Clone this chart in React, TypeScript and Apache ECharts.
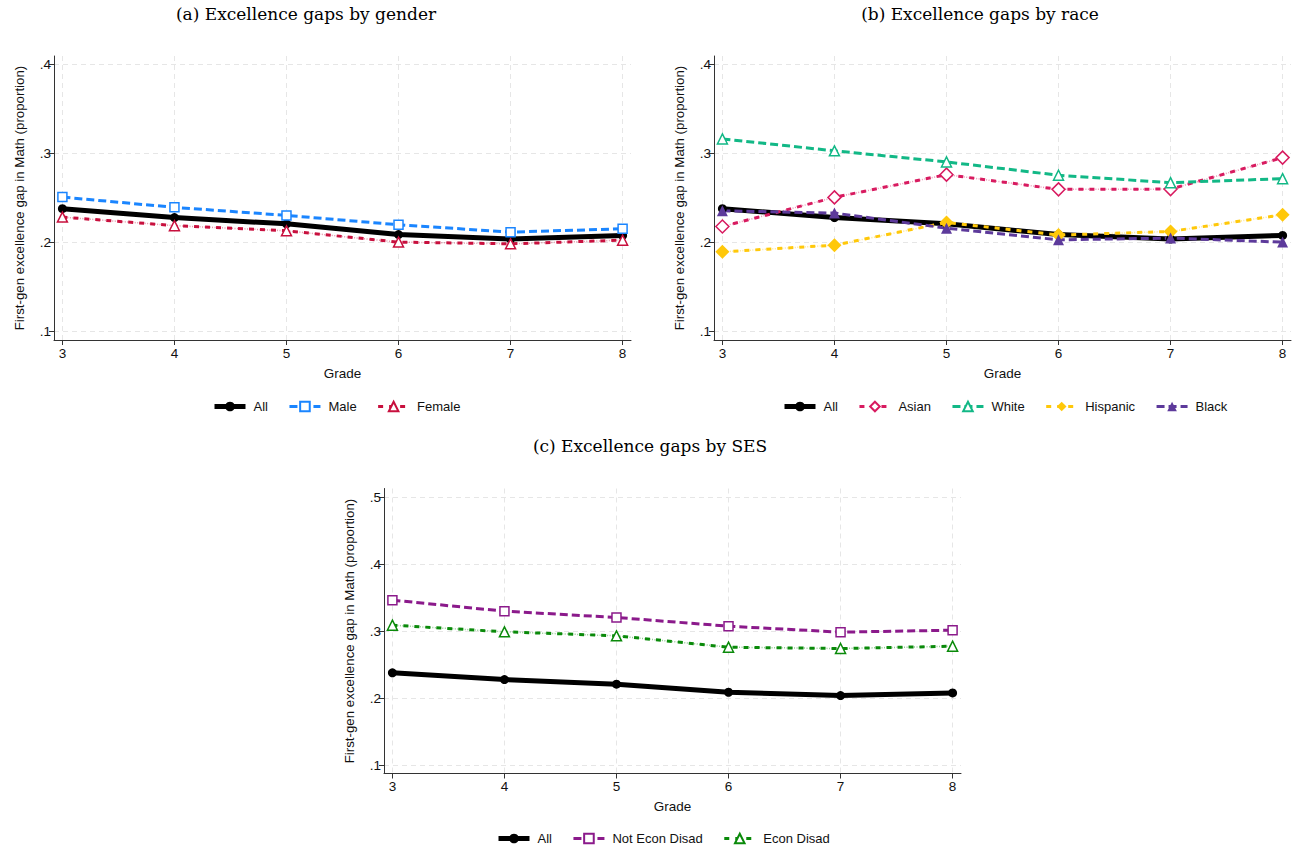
import React, { useEffect, useRef } from "react";
import * as echarts from "echarts";

const grades = [3, 4, 5, 6, 7, 8];
const allGap = [0.238, 0.228, 0.221, 0.209, 0.204, 0.208];
const maleGap = [0.251, 0.2395, 0.2305, 0.22, 0.2117, 0.2155];
const femaleGap = [0.2286, 0.219, 0.2132, 0.2005, 0.1986, 0.2027];
const asianGap = [0.218, 0.2507, 0.2762, 0.2597, 0.26, 0.2953];
const whiteGap = [0.3163, 0.3029, 0.2905, 0.2755, 0.2672, 0.2717];
const hispanicGap = [0.1896, 0.1971, 0.2226, 0.2084, 0.2125, 0.2312];
const blackGap = [0.2357, 0.2331, 0.2162, 0.2031, 0.205, 0.2005];
const notEconGap = [0.3466, 0.3301, 0.3207, 0.3077, 0.2988, 0.3017];
const econGap = [0.3092, 0.2993, 0.2933, 0.2763, 0.2743, 0.2778];

const yTicksAB = [0.1, 0.2, 0.3, 0.4];
const yTicksC = [0.1, 0.2, 0.3, 0.4, 0.5];

const legendA = ["All", "Male", "Female"];
const legendB = ["All", "Asian", "White", "Hispanic", "Black"];
const legendC = ["All", "Not Econ Disad", "Econ Disad"];

const titles = [
  "(a) Excellence gaps by gender",
  "(b) Excellence gaps by race",
  "(c) Excellence gaps by SES",
];

const yName = "First-gen excellence gap in Math (proportion)";
const FONT = "Liberation Sans, Arial, Helvetica, sans-serif";

const pairs = (arr: number[]) => grades.map((g, i) => [g, arr[i]]);

function axes(gridIndex: number, yMin: number, yMax: number, yTicks: number[]) {
  const x = {
    type: "value",
    gridIndex,
    min: 2.925,
    max: 8.075,
    name: "Grade",
    nameLocation: "middle",
    nameGap: 26,
    nameTextStyle: { fontFamily: FONT, fontSize: 13.5, color: "#111" },
    axisLine: { show: true, lineStyle: { color: "#333", width: 1 } },
    axisTick: { show: true, length: 5, customValues: grades, lineStyle: { color: "#333" } },
    axisLabel: {
      customValues: grades,
      fontFamily: FONT,
      fontSize: 13.5,
      color: "#111",
      margin: 6,
      formatter: (v: number) => String(v),
    },
    splitLine: { show: true, lineStyle: { color: "#e6e6e6", type: [5, 4], width: 1 } },
  };
  const y = {
    type: "value",
    gridIndex,
    min: yMin,
    max: yMax,
    name: yName,
    nameLocation: "middle",
    nameGap: 28,
    nameTextStyle: { fontFamily: FONT, fontSize: 13.3, color: "#111" },
    axisLine: { show: true, lineStyle: { color: "#333", width: 1 } },
    axisTick: { show: true, length: 5, customValues: yTicks, lineStyle: { color: "#333" } },
    axisLabel: {
      customValues: yTicks,
      fontFamily: FONT,
      fontSize: 13.5,
      color: "#111",
      margin: 3,
      formatter: (v: number) => String(Math.round(v * 10) / 10).replace(/^0\./, "."),
    },
    splitLine: { show: true, lineStyle: { color: "#e6e6e6", type: [5, 4], width: 1 } },
  };
  return { x, y };
}

type SerSpec = {
  name: string;
  data: number[];
  color: string;
  width: number;
  dash: any;
  symbol: string;
  size: number;
  hollow: boolean;
  dashdot?: boolean;
};

function mkSeries(idx: number, s: SerSpec) {
  const out: any[] = [];
  if (s.dashdot) {
    out.push({
      type: "line",
      name: s.name + " ",
      xAxisIndex: idx,
      yAxisIndex: idx,
      data: pairs(s.data),
      showSymbol: false,
      symbol: "none",
      silent: true,
      lineStyle: { color: s.color, width: 1.5, opacity: 0.45, type: [1, 1.5] },
      z: 2,
    });
  }
  out.push({
    type: "line",
    name: s.name,
    xAxisIndex: idx,
    yAxisIndex: idx,
    data: pairs(s.data),
    symbol: s.symbol,
    symbolSize: s.size,
    showSymbol: true,
    lineStyle: { color: s.color, width: s.width, type: s.dash },
    itemStyle: s.hollow
      ? { color: "#ffffff", borderColor: s.color, borderWidth: 1.5 }
      : { color: s.color, borderColor: s.color, borderWidth: 0 },
    z: 3,
  });
  return out;
}

const allSpec = (): SerSpec => ({
  name: "All",
  data: allGap,
  color: "#000000",
  width: 5,
  dash: "solid",
  symbol: "circle",
  size: 9,
  hollow: false,
});

export default function App() {
  const ref = useRef<HTMLDivElement>(null);
  useEffect(() => {
    document.body.style.margin = "0";
    if (!ref.current) return;
    const chart = echarts.init(ref.current, undefined, { renderer: "svg" });
    const a = axes(0, 0.0907, 0.4093, yTicksAB);
    const b = axes(1, 0.0907, 0.4093, yTicksAB);
    const c = axes(2, 0.0876, 0.5134, yTicksC);

    const series: any[] = [
      ...mkSeries(0, allSpec()),
      ...mkSeries(0, { name: "Male", data: maleGap, color: "#1A85FF", width: 3, dash: [8, 4], symbol: "rect", size: 9, hollow: true }),
      ...mkSeries(0, { name: "Female", data: femaleGap, color: "#C8103E", width: 3, dash: [5, 6], symbol: "triangle", size: 10, hollow: true, dashdot: true }),
      ...mkSeries(1, allSpec()),
      ...mkSeries(1, { name: "Asian", data: asianGap, color: "#D81B60", width: 3, dash: [5, 6], symbol: "diamond", size: 13, hollow: true, dashdot: true }),
      ...mkSeries(1, { name: "White", data: whiteGap, color: "#12B886", width: 3, dash: [8, 4], symbol: "triangle", size: 10, hollow: true }),
      ...mkSeries(1, { name: "Hispanic", data: hispanicGap, color: "#FFC80A", width: 3, dash: [5, 6], symbol: "diamond", size: 14, hollow: false, dashdot: true }),
      ...mkSeries(1, { name: "Black", data: blackGap, color: "#5D3A9B", width: 3, dash: [8, 4], symbol: "triangle", size: 11, hollow: false }),
      ...mkSeries(2, allSpec()),
      ...mkSeries(2, { name: "Not Econ Disad", data: notEconGap, color: "#8B1A8B", width: 3, dash: [8, 4], symbol: "rect", size: 9, hollow: true }),
      ...mkSeries(2, { name: "Econ Disad", data: econGap, color: "#0A8A0A", width: 3, dash: [5, 6], symbol: "triangle", size: 10, hollow: true, dashdot: true }),
    ];

    const legendBase = {
      orient: "horizontal",
      itemWidth: 31,
      itemHeight: 12,
      itemGap: 20,
      selectedMode: false,
      lineStyle: { width: "inherit" },
      textStyle: { fontFamily: FONT, fontSize: 13, color: "#111", padding: [0, 0, 0, 3] },
    };

    const titleFont = "17px 'DejaVu Serif', serif";

    chart.setOption({
      animation: false,
      backgroundColor: "#ffffff",
      grid: [
        { left: 54, top: 56, width: 577, height: 284 },
        { left: 714, top: 56, width: 577, height: 284 },
        { left: 384, top: 488.5, width: 577, height: 285 },
      ],
      xAxis: [a.x, b.x, c.x],
      yAxis: [a.y, b.y, c.y],
      legend: [
        { ...legendBase, data: legendA, left: 207, top: 395 },
        { ...legendBase, data: legendB, left: 777, top: 395 },
        { ...legendBase, data: legendC, left: 491, top: 827 },
      ],
      graphic: [
        { type: "text", x: 306, y: 14, style: { text: titles[0], font: titleFont, fill: "#000", textAlign: "center", textVerticalAlign: "middle" } },
        { type: "text", x: 980, y: 14, style: { text: titles[1], font: titleFont, fill: "#000", textAlign: "center", textVerticalAlign: "middle" } },
        { type: "text", x: 650, y: 446, style: { text: titles[2], font: titleFont, fill: "#000", textAlign: "center", textVerticalAlign: "middle" } },
      ],
      series,
    });
    return () => chart.dispose();
  }, []);
  return <div ref={ref} style={{ width: 1294, height: 845 }} />;
}
